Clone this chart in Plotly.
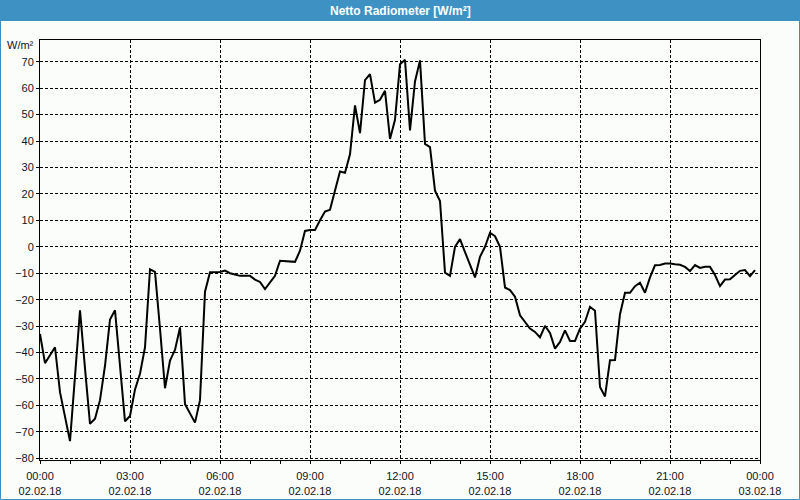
import pandas as pd
import plotly.graph_objects as go

# Netto radiometer readings, every 10 minutes, 02.02.18 00:00 .. 23:50
values = [
    -33, -44, -41, -38, -55, -64, -73.5, -49, -24, -46,
    -67, -65, -58, -45, -27.5, -24, -45, -66, -64, -54,
    -48, -38, -8.5, -9.5, -31, -53.5, -43, -39, -30.5, -59.5,
    -63, -66.5, -58, -17, -9.6, -9.6, -9.5, -9, -10, -10.5,
    -11, -11, -11, -12.4, -13.3, -16, -13.6, -11, -5.3, -5.5,
    -5.5, -5.7, -1.5, 6, 6.3, 6.3, 10, 13.3, 14, 21,
    28.5, 28, 35, 53.5, 43, 63, 65.3, 54.5, 55.6, 59,
    40.8, 48, 69, 70.7, 44, 62.5, 70.5, 38.9, 37.7, 21.2,
    17.3, -9.8, -11, 0, 2.9, -2, -6.7, -11.6, -3.8, 0,
    5.3, 4, 0, -15.4, -16.4, -18.9, -25.9, -28.4, -30.9, -32.2,
    -34.3, -29.9, -32.6, -38.5, -36, -31.6, -35.6, -35.6, -31, -28.4,
    -22.7, -24.2, -53, -56.6, -42.9, -42.8, -25.5, -17.4, -17.4, -14.9,
    -13.6, -17.4, -11.6, -7, -6.9, -6.3, -6.3, -6.6, -6.8, -7.6,
    -9.2, -6.9, -8, -7.6, -7.6, -10.7, -14.9, -12.4, -12.3, -10.7,
    -9.1, -8.8, -11.1, -8.8,
]
times = pd.date_range("2018-02-02 00:00", periods=len(values), freq="10min")

x_tick_vals = ["2018-02-02 00:00", "2018-02-02 03:00", "2018-02-02 06:00",
               "2018-02-02 09:00", "2018-02-02 12:00", "2018-02-02 15:00",
               "2018-02-02 18:00", "2018-02-02 21:00", "2018-02-03 00:00"]
x_tick_text = ["00:00<br>02.02.18", "03:00<br>02.02.18", "06:00<br>02.02.18",
               "09:00<br>02.02.18", "12:00<br>02.02.18", "15:00<br>02.02.18",
               "18:00<br>02.02.18", "21:00<br>02.02.18", "00:00<br>03.02.18"]
y_tick_vals = [-80, -70, -60, -50, -40, -30, -20, -10, 0, 10, 20, 30, 40, 50, 60, 70]

title_text = "Netto Radiometer [W/m²]"
unit_text = "W/m²"

W, H = 800, 500
ML, MR, MT, MB = 40, 40, 40, 40
PW, PH = W - ML - MR, H - MT - MB


def px_x(px):
    return (px - ML) / PW


def px_y(py):
    return (H - MB - py) / PH


BG = "#fbfdfb"
BLUE = "#3d92c3"
TXT = "#10141f"
FONT = "Liberation Sans"

fig = go.Figure()
fig.add_trace(go.Scatter(x=times, y=values, mode="lines",
                         line=dict(color="black", width=2), hoverinfo="skip"))

fig.update_layout(
    width=W, height=H,
    margin=dict(l=ML, r=MR, t=MT, b=MB, pad=0, autoexpand=False),
    paper_bgcolor=BG, plot_bgcolor=BG,
    showlegend=False,
    font=dict(family=FONT, size=11, color=TXT),
    xaxis=dict(
        range=["2018-02-02 00:00", "2018-02-03 00:00"],
        tickmode="array", tickvals=x_tick_vals, ticktext=x_tick_text,
        showline=True, linecolor="black", linewidth=1, mirror=True,
        ticks="outside", ticklen=3, tickcolor="black", tickwidth=1,
        ticklabelstandoff=3, automargin=False,
        showgrid=True, gridcolor="black", gridwidth=1, griddash="3px,2px",
        minor=dict(tickmode="linear", tick0="2018-02-02 00:00", dtick=3600000,
                   ticks="outside", ticklen=3, tickcolor="black", showgrid=False),
        zeroline=False, tickfont=dict(family=FONT, size=11, color=TXT),
        fixedrange=True,
    ),
    yaxis=dict(
        range=[-80.64, 78.2],
        tickmode="array", tickvals=y_tick_vals,
        showline=True, linecolor="black", linewidth=1, mirror=True,
        ticks="outside", ticklen=3, tickcolor="black", tickwidth=1,
        automargin=False,
        showgrid=True, gridcolor="black", gridwidth=1, griddash="3px,2px",
        zeroline=False, tickfont=dict(family=FONT, size=11, color=TXT),
        fixedrange=True,
    ),
    shapes=[
        dict(type="rect", xref="paper", yref="paper",
             x0=px_x(0), x1=px_x(W), y0=px_y(21), y1=px_y(0),
             fillcolor=BLUE, line=dict(width=0), layer="above"),
        dict(type="rect", xref="paper", yref="paper",
             x0=px_x(0.5), x1=px_x(W - 0.5), y0=px_y(H - 0.5), y1=px_y(0.5),
             fillcolor="rgba(0,0,0,0)", line=dict(color=BLUE, width=1), layer="above"),
    ],
    annotations=[
        dict(text="<b>" + title_text + "</b>", xref="paper", yref="paper",
             x=px_x(W / 2), y=px_y(10.5), xanchor="center", yanchor="middle",
             showarrow=False, font=dict(family=FONT, size=12, color="white")),
        dict(text=unit_text, xref="paper", yref="paper",
             x=px_x(36), y=px_y(45), xanchor="right", yanchor="middle",
             showarrow=False, font=dict(family=FONT, size=11, color=TXT)),
    ],
)

fig.write_html("out.html", config={"displayModeBar": False})
